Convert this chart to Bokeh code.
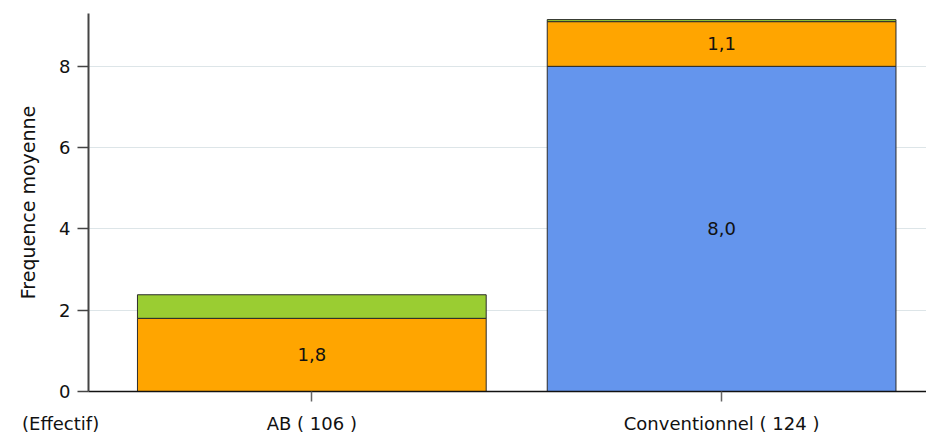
from bokeh.plotting import figure
from bokeh.models import Range1d, ColumnDataSource, FixedTicker, Div
from bokeh.layouts import column
from bokeh.embed import file_html
from bokeh.resources import INLINE
from bokeh.core.properties import value

categories = ["AB ( 106 )", "Conventionnel ( 124 )"]
series_names = ["blue", "orange", "green"]
blue_vals = [0.0, 8.0]
orange_vals = [1.8, 1.1]
green_vals = [0.58, 0.05]
colors = ["#6495ED", "#FFA500", "#9ACD32"]
y_ticks = [0, 2, 4, 6, 8]
y_title = "Frequence moyenne"
x_note = "(Effectif)"
label_threshold = 1.0

FONT = "DejaVu Sans"

xs = list(range(len(categories)))
src = ColumnDataSource(dict(x=xs, blue=blue_vals, orange=orange_vals, green=green_vals))

p = figure(width=926, height=436, output_backend="svg", toolbar_location=None,
           x_range=Range1d(-0.545, 1.5), y_range=Range1d(0, 9.3))
p.min_border_left = 88
p.min_border_right = 0
p.min_border_top = 13
p.min_border_bottom = 44
p.outline_line_color = None
p.background_fill_color = "white"

p.vbar_stack(series_names, x="x", width=0.851, source=src, color=colors,
             line_color="#2b2b2b", line_width=1)

# segment labels
lx, ly, lt = [], [], []
for i in xs:
    base = 0.0
    for vals in (blue_vals, orange_vals, green_vals):
        v = vals[i]
        if v >= label_threshold:
            lx.append(i)
            ly.append(base + v / 2)
            lt.append(f"{v:.1f}".replace(".", ","))
        base += v
p.text(x=lx, y=ly, text=lt, text_align="center", text_baseline="middle",
       text_font=value(FONT), text_font_size="18px", text_color="#111111")

# grid
p.xgrid.grid_line_color = None
p.ygrid.grid_line_color = "#dde5e8"
p.ygrid.grid_line_width = 1
p.ygrid.ticker = FixedTicker(ticks=y_ticks)

# y axis
ya = p.yaxis[0]
ya.ticker = FixedTicker(ticks=y_ticks)
ya.axis_label = y_title
ya.axis_label_text_font = FONT
ya.axis_label_text_font_style = "normal"
ya.axis_label_text_font_size = "19px"
ya.axis_label_text_color = "#111111"
ya.axis_label_standoff = 17
ya.major_label_text_font = FONT
ya.major_label_text_font_size = "18px"
ya.major_label_text_color = "#111111"
ya.major_label_standoff = 7
ya.major_tick_out = 11
ya.major_tick_in = 0
ya.minor_tick_line_color = None
ya.axis_line_color = "#444444"
ya.axis_line_width = 2
ya.major_tick_line_color = "#444444"
ya.major_tick_line_width = 1.5

# x axis
xa = p.xaxis[0]
xa.ticker = FixedTicker(ticks=xs)
xa.major_label_overrides = {i: c for i, c in zip(xs, categories)}
xa.major_label_text_font = FONT
xa.major_label_text_font_size = "18px"
xa.major_label_text_color = "#111111"
xa.major_label_standoff = 11
xa.major_tick_out = 10
xa.major_tick_in = 0
xa.minor_tick_line_color = None
xa.axis_line_color = "#111111"
xa.axis_line_width = 1.5
xa.major_tick_line_color = "#666666"
xa.major_tick_line_width = 1.5

note = Div(text=x_note, margin=(-22, 0, 0, 22),
           styles={"font-family": FONT, "font-size": "18px", "line-height": "20px",
                   "color": "#111111"})

layout = column(p, note, spacing=0)
open("out.html", "w").write(file_html(layout, INLINE))
